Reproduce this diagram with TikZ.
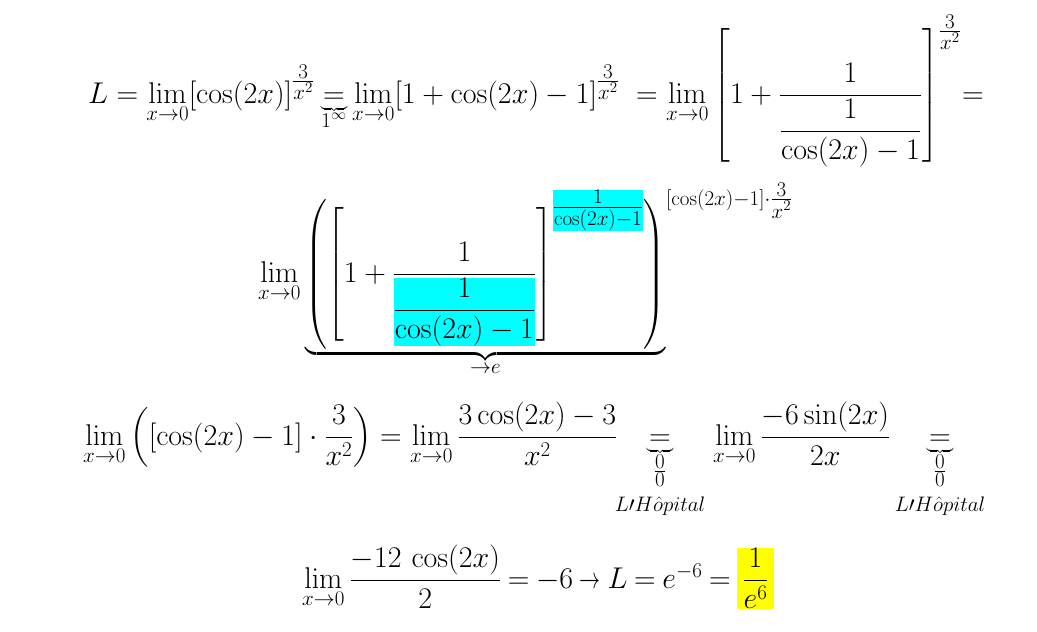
\documentclass[tikz,border=0pt]{standalone}
\usepackage{fix-cm}
\usepackage{amsmath}
\usepackage{graphicx}
\usepackage{xcolor}
\usetikzlibrary{positioning}
\definecolor{hlcyan}{RGB}{0,255,255}
\definecolor{hlyellow}{RGB}{255,255,0}
\tikzset{
	eq/.style={anchor=base west,inner sep=0pt,font=\fontsize{30}{36}\selectfont},
	eqc/.style={eq,anchor=base}
}
\newcommand{\lmx}{\lim\limits_{x\to 0}}
\newcommand{\ex}[1]{^{\frac{\scriptstyle #1}{\scriptstyle x^2}}}
\newcommand{\tinybrace}{\scalebox{0.3}[0.4]{$\underbrace{\hspace{3em}}$}}
\newcommand{\hop}{\underset{\substack{\tinybrace\\ \frac{\scriptstyle 0}{\scriptstyle 0}\\[8pt] L{\prime}H\hat{o}pital}}{=}}
\newcommand{\sto}{\mathrel{\scalebox{0.7}[1]{$\rightarrow$}}}
\setlength{\fboxsep}{0pt}
\delimiterfactor=850
\delimitershortfall=20pt

\begin{document}
\begin{tikzpicture}[x=1pt,y=-1pt]
	\useasboundingbox (0,0) rectangle (1037,632);
	% first line
	\node[eq] (a1) at (88,103) {$L=\lmx[\cos(2x)]\ex{3}$};
	\node[eqc] (a2) at (334,103) {$\underset{\substack{\tinybrace\\ 1^\infty}}{=}$};
	\node[eq] (a3) at (352,103) {$\lmx[1+\cos(2x)-1]\ex{3}$};
	\node[eq] (a4) at (636,103) {$=\lmx\left[1+\dfrac{1}{\dfrac{1}{\cos(2x)-1}}\right]\ex{3}$};
	\node[eq] (a5) at (962,103) {$=$};

	% second line
	\node[eq] (b1) at (258,282) {$\lmx\underbrace{\left(\left[1+\dfrac{1}{\colorbox{hlcyan}{$\dfrac{1}{\cos(2x)-1}$}}\right]^{\colorbox{hlcyan}{$\frac{1}{\cos(2x)-1}$}}\right)}_{\to e}$};
	\node[eq] (b2) at (666,205) {$\scriptstyle[\cos(2x){-}1]\cdot\frac{\scriptstyle 3}{\scriptstyle x^2}$};

	% third line
	\node[eq] (c1) at (83,445) {$\lmx\left([\cos(2x)-1]\cdot\dfrac{3}{x^2}\right)=\lmx\dfrac{3\cos(2x)-3}{x^2}$};
	\node[eqc] (c2) at (660,445) {$\hop$};
	\node[eq] (c3) at (713,445) {$\lmx\dfrac{-6\sin(2x)}{2x}$};
	\node[eqc] (c4) at (940,445) {$\hop$};

	% fourth line
	\node[eq] (d1) at (302,588) {$\thickmuskip=4mu\lmx\dfrac{-12\,\cos(2x)}{2}=-6\sto L=e^{-6}=\colorbox{hlyellow}{$\,\dfrac{1}{e^6}\,$}$};
\end{tikzpicture}
\end{document}
